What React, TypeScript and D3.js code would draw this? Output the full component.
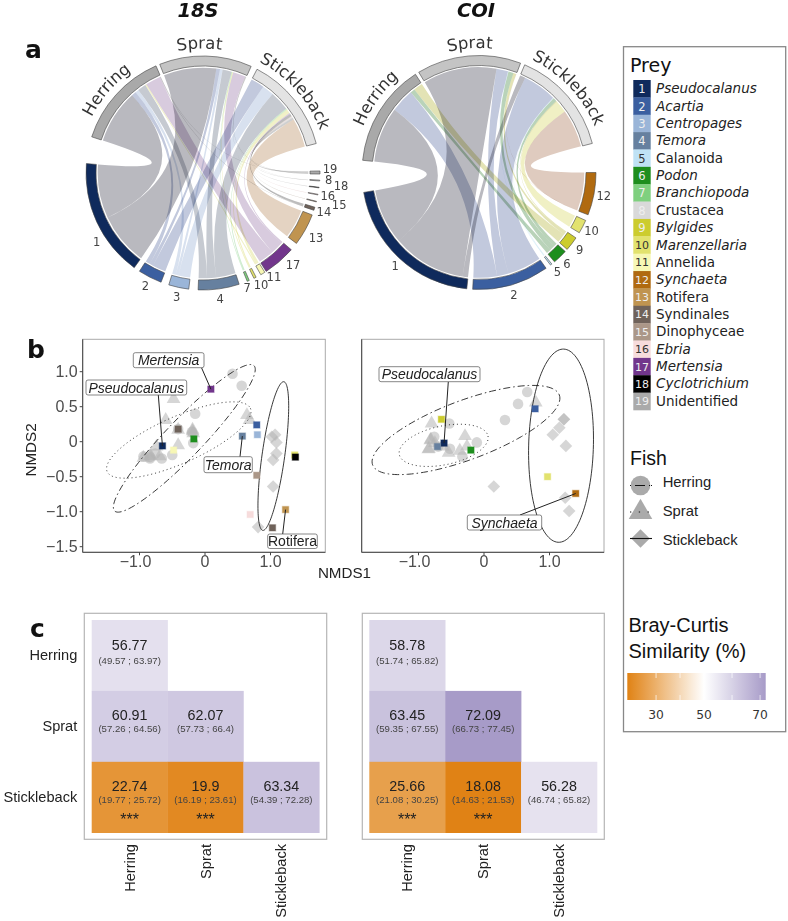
import * as d3 from "d3";

const DEJAVU = "'DejaVu Sans'";
const ARIAL = "'Liberation Sans'";
const toRad = (deg: number) => (deg * Math.PI) / 180;

// prey legend
const PREY_NAMES = [
  "Pseudocalanus", "Acartia", "Centropages", "Temora", "Calanoida", "Podon", "Branchiopoda", "Crustacea",
  "Bylgides", "Marenzellaria", "Annelida", "Synchaeta", "Rotifera", "Syndinales", "Dinophyceae", "Ebria",
  "Mertensia", "Cyclotrichium", "Unidentified",
];
const PREY_ITALIC = [1, 2, 3, 4, 6, 7, 9, 10, 12, 16, 17, 18];
const PREY_COLORS = [
  "#0f2a5c", "#3b5fa0", "#9ab5d8", "#66809f", "#bfe2f5", "#1e8e1e", "#7fd07f", "#d9d9d9", "#cccc2e", "#e2e26e",
  "#f7f7b5", "#b06a10", "#c09450", "#6f625a", "#ab9788", "#f7dcdc", "#72368c", "#000000", "#aaaaaa",
];
const RIBBON_COLORS = [
  "#b9b9bf", "#c2c9dd", "#d8e1ef", "#c6cad1", "#dff0f8", "#b9d3b9", "#cfeccf", "#e2e2e2", "#e3e3b5", "#f0f0c4",
  "#f1f1c8", "#dfcbbf", "#e4d3c2", "#bdbdbd", "#dcd6d0", "#f0e4e4", "#d8cbde", "#dddddd", "#cfcfcf",
];
const DARK_NUMBERS = [5, 10, 11, 16];
const FISH = ["Herring", "Sprat", "Stickleback"];
const FISH_COLORS = ["#a9a9a9", "#c4c4c4", "#e3e3e3"];

// chord data: degrees of ring per fish/prey link, prey ids clockwise around the ring
const PREY_18S = [19, 8, 18, 16, 15, 14, 13, 17, 11, 10, 7, 4, 3, 2, 1];
const HERRING_18S = [0.2, 0, 0, 0, 0, 0.2, 0, 8.5, 0.7, 0, 0, 4.6, 2, 2.5, 29.6];
const SPRAT_18S = [0.3, 0.1, 0, 0, 0, 0.2, 0, 7, 0, 0.5, 0.4, 5, 1.5, 2, 29];
const STICKLEBACK_18S = [1, 0.3, 0.3, 0.3, 0.3, 1.2, 16, 0.8, 1.6, 0.7, 0.7, 10.8, 6.5, 7.4, 0];
const LINK_ORDER_18S = [1, 2, 3, 4, 7, 10, 11, 17, 14, 15, 16, 18, 8, 19, 13];
const GAPS_18S = [2, 3.2, 13.6, 3, 3.1, 3.2, 3.2, 2.7, 2.4, 4, 0.8, 2.6, 2.5, 4.2, 4.6, 4, 3.1, 13.4];

const PREY_COI = [12, 10, 9, 6, 5, 2, 1];
const HERRING_COI = [0, 0, 5, 2.5, 0, 13, 30.6];
const SPRAT_COI = [0.2, 0, 1.5, 2.8, 0.3, 6.4, 40.6];
const STICKLEBACK_COI = [21, 6.8, 0.6, 2, 0.5, 18.7, 3];
const LINK_ORDER_COI = [1, 2, 5, 6, 9, 10, 12];
const GAPS_COI = [1.9, 2.2, 14.4, 3, 3, 1.4, 1.7, 2.7, 2.9, 15.8];

// ordination points, NMDS1/NMDS2
const HERRING_PTS_18S = [[0.42, 0.97], [0.56, 0.8], [-0.15, 0.4], [-0.18, -0.02], [-0.5, -0.19], [-0.66, -0.24], [-0.84, -0.24], [-0.84, -0.22], [-0.94, -0.21], [-0.76, -0.17], [-0.2, 0.14], [-0.41, 0.18]];
const SPRAT_PTS_18S = [[-0.48, 0.61], [-0.6, 0.31], [0.64, 0.38], [0.68, 0.31], [-0.19, 0.17], [-0.19, 0.15], [-0.41, 0.17], [-0.41, -0.05], [-0.18, 0.12], [-0.74, -0.07], [-0.84, -0.21], [-0.83, -0.2], [-0.69, -0.21], [-0.94, -0.23]];
const STICKLEBACK_PTS_18S = [[1.07, 0.1], [1.02, 0.07], [1.09, -0.01], [1.09, -0.17], [1.04, -0.26], [1.04, -0.64], [0.81, -1.22]];
const PREY_PTS_18S = [[17, 0.09, 0.75], [1, -0.65, -0.06], [14, -0.41, 0.18], [6, -0.17, 0.04], [11, -0.48, -0.12], [4, 0.57, 0.08], [2, 0.79, 0.24], [3, 0.8, 0.1], [10, 1.37, -0.19], [18, 1.38, -0.22], [15, 0.79, -0.48], [16, 0.69, -1.04], [14, 1.03, -1.23], [13, 1.23, -0.97]];

const HERRING_PTS_COI = [[0.66, 0.71], [0.52, 0.54], [0.32, 0.31], [-0.11, -0.01], [-0.53, 0.26], [-0.76, 0.07], [-0.33, -0.21], [-0.52, -0.1], [-0.7, -0.07]];
const SPRAT_PTS_COI = [[0.79, 0.56], [-0.8, 0.26], [-0.29, 0.08], [-0.82, 0.02], [-0.81, 0.03], [-0.26, -0.07], [-0.37, -0.13], [-0.85, -0.11], [-0.84, -0.1], [-0.54, -0.16], [-0.75, -0.02], [-0.63, -0.07]];
const STICKLEBACK_PTS_COI = [[1.22, 0.32], [1.22, 0.32], [1.15, 0.2], [1.05, 0.1], [1.25, -0.06], [0.15, -0.64], [1.24, -0.8], [1.3, -0.99]];
const PREY_PTS_COI = [[2, 0.78, 0.47], [9, -0.65, 0.32], [1, -0.61, -0.02], [4, -0.71, -0.07], [6, -0.2, -0.12], [10, 0.97, -0.5], [12, 1.4, -0.74]];

// ellipses: centre, long half axis, short half axis
const ELLIPSES_18S = [
  [-0.316, 0.048, 1.064, 1.038, 0.204, -0.186],
  [-0.4, 0.024, 1.094, 0.452, 0.1425, -0.305],
  [1.043, -0.205, 0.153, 1.062, 0.178, 0.024],
];
const ELLIPSES_COI = [
  [-0.275, 0.167, 1.425, 0.5, 0.158, -0.395],
  [-0.616, -0.052, 0.677, 0.133, 0.061, -0.271],
  [1.176, -0.057, 0.04, 1.38, 0.494, -0.014],
];
const ELLIPSE_DASH = ["7 3 1.5 3", "1 3", ""];
const LEGEND_DASH = ["1 4 10 4 1", "1.3 7.5", ""];

const CALLOUTS_18S = [
  { text: "Mertensia", italic: true, x: 133.3, y: 352.7, w: 70.7, h: 15, fromX: 201.5, fromY: 367.7, prey: 17 },
  { text: "Pseudocalanus", italic: true, x: 86, y: 380, w: 100.7, h: 15, fromX: 158.3, fromY: 395, prey: 1 },
  { text: "Temora", italic: true, x: 204, y: 456.7, w: 48.3, h: 16, fromX: 240, fromY: 456.7, prey: 4 },
  { text: "Rotifera", italic: false, x: 267.7, y: 534, w: 49.6, h: 14.5, fromX: 282.7, fromY: 534, prey: 13 },
];
const CALLOUTS_COI = [
  { text: "Pseudocalanus", italic: true, x: 379, y: 366.7, w: 101, h: 15, fromX: 448.3, fromY: 381.7, prey: 1 },
  { text: "Synchaeta", italic: true, x: 467.3, y: 515, w: 74.4, h: 15, fromX: 520, fromY: 515, prey: 12 },
];

// similarity tables, lower triangle
const SIM_18S = [[56.77], [60.91, 62.07], [22.74, 19.9, 63.34]];
const CI_18S = [["(49.57 ; 63.97)"], ["(57.26 ; 64.56)", "(57.73 ; 66.4)"], ["(19.77 ; 25.72)", "(16.19 ; 23.61)", "(54.39 ; 72.28)"]];
const SIM_COI = [[58.78], [63.45, 72.09], [25.66, 18.08, 56.28]];
const CI_COI = [["(51.74 ; 65.82)"], ["(59.35 ; 67.55)", "(66.73 ; 77.45)"], ["(21.08 ; 30.25)", "(14.63 ; 21.53)", "(46.74 ; 65.82)"]];
const STARS = [[2, 0], [2, 1]];

const simColor = d3.scaleLinear<string>().domain([18, 50, 72]).range(["#e08214", "#ffffff", "#a79bc8"]);

type ChordProps = {
  cx: number;
  cy: number;
  prey: number[];
  flows: number[][];
  linkOrder: number[];
  gaps: number[];
  start: number;
  labelNudge: { [id: number]: [number, number] };
  fishAngles: number[];
  id: string;
};

const Chord = ({ cx, cy, prey, flows, linkOrder, gaps, start, labelNudge, fishAngles, id }: ChordProps) => {
  const R = 117;
  const trackIn = 107;
  const ribbonR = 105.3;
  const arc = d3.arc<any>();
  const ribbon = d3.ribbon<any, any>().radius(ribbonR);

  const sectors: { key: string; start: number; end: number; fill: string; preyId?: number }[] = [];
  const fishPos: { [k: string]: number } = {};
  const preyPos: { [k: string]: number } = {};
  let a = start;
  let g = 0;
  flows.forEach((row, f) => {
    const total = d3.sum(row);
    sectors.push({ key: FISH[f], start: a, end: a + total, fill: FISH_COLORS[f] });
    fishPos[f] = a;
    a += total + gaps[g++];
  });
  prey.forEach((p, i) => {
    const total = d3.sum(flows, (row) => row[i]);
    sectors.push({ key: "p" + p, start: a, end: a + total, fill: PREY_COLORS[p - 1], preyId: p });
    preyPos[p] = a;
    a += total + gaps[g++];
  });

  // fish side runs by link order, prey side runs stickleback to herring
  const links: { p: number; f: number; s0: number; s1: number; t0: number; t1: number }[] = [];
  flows.forEach((row, f) => {
    linkOrder.forEach((p) => {
      const v = row[prey.indexOf(p)];
      if (v > 0) {
        links.push({ p, f, s0: fishPos[f], s1: fishPos[f] + v, t0: 0, t1: 0 });
        fishPos[f] += v;
      }
    });
  });
  [2, 1, 0].forEach((f) => {
    links
      .filter((l) => l.f === f)
      .forEach((l) => {
        const v = l.s1 - l.s0;
        l.t0 = preyPos[l.p];
        l.t1 = l.t0 + v;
        preyPos[l.p] += v;
      });
  });

  return (
    <g transform={`translate(${cx},${cy})`}>
      {links
        .slice()
        .sort((x, y) => x.p - y.p)
        .map((l, i) => (
          <path
            key={i}
            d={ribbon({
              source: { startAngle: toRad(l.s0), endAngle: toRad(l.s1) },
              target: { startAngle: toRad(l.t0), endAngle: toRad(l.t1) },
            }) as unknown as string}
            fill={RIBBON_COLORS[l.p - 1]}
            style={{ mixBlendMode: "multiply" }}
          />
        ))}
      {sectors.map((s) => (
        <path
          key={s.key}
          d={arc({ innerRadius: trackIn, outerRadius: R, startAngle: toRad(s.start), endAngle: toRad(s.end) }) as string}
          fill={s.fill}
          stroke="#444"
          strokeWidth={0.6}
        />
      ))}
      {sectors
        .filter((s) => s.preyId)
        .map((s) => {
          const mid = toRad((s.start + s.end) / 2);
          const n = labelNudge[s.preyId as number] || [0, 0];
          return (
            <text
              key={s.key}
              x={127 * Math.sin(mid) + n[0]}
              y={-127 * Math.cos(mid) + n[1]}
              fontFamily={DEJAVU}
              fontSize={11.5}
              fill="#444"
              textAnchor="middle"
              dominantBaseline="central"
            >
              {s.preyId}
            </text>
          );
        })}
      {FISH.map((name, f) => {
        const m = fishAngles[f];
        const p0 = toRad(m - 70);
        const p1 = toRad(m + 70);
        const r = 124.5;
        const d = `M${r * Math.sin(p0)},${-r * Math.cos(p0)}A${r},${r} 0 0 1 ${r * Math.sin(p1)},${-r * Math.cos(p1)}`;
        return (
          <g key={name}>
            <path id={`${id}-${f}`} d={d} fill="none" />
            <text fontFamily={DEJAVU} fontSize={16.5} fill="#333">
              <textPath href={`#${id}-${f}`} startOffset="50%" textAnchor="middle">
                {name}
              </textPath>
            </text>
          </g>
        );
      })}
    </g>
  );
};

type OrdinationProps = {
  left: number;
  right: number;
  zeroX: number;
  herring: number[][];
  sprat: number[][];
  stickleback: number[][];
  preyPts: number[][];
  ellipses: number[][];
  callouts: typeof CALLOUTS_18S;
  showY: boolean;
};

const Ordination = ({ left, right, zeroX, herring, sprat, stickleback, preyPts, ellipses, callouts, showY }: OrdinationProps) => {
  const top = 339.3;
  const bottom = 552.3;
  const x = d3.scaleLinear().domain([0, 1]).range([zeroX, zeroX + 65.5]);
  const y = d3.scaleLinear().domain([0, 1]).range([441.7, 371.7]);
  const circle = d3.symbol().type(d3.symbolCircle).size(88)() as string;
  const triangle = d3.symbol().type(d3.symbolTriangle).size(82)() as string;
  const diamond = d3.symbol().type(d3.symbolSquare).size(80)() as string;
  const angles = d3.range(0, 2 * Math.PI, 0.05);

  return (
    <g>
      <rect x={left} y={top} width={right - left} height={bottom - top} fill="#fff" stroke="#aaa" strokeWidth={1} />
      <line x1={left} x2={left} y1={top} y2={bottom} stroke="#444" strokeWidth={1} />
      <line x1={left} x2={right} y1={bottom} y2={bottom} stroke="#444" strokeWidth={1} />
      {herring.map((d, i) => (
        <path key={i} d={circle} transform={`translate(${x(d[0])},${y(d[1])})`} fill="#b5b5b5" fillOpacity={0.55} />
      ))}
      {sprat.map((d, i) => (
        <path key={i} d={triangle} transform={`translate(${x(d[0])},${y(d[1])})`} fill="#b5b5b5" fillOpacity={0.55} />
      ))}
      {stickleback.map((d, i) => (
        <path key={i} d={diamond} transform={`translate(${x(d[0])},${y(d[1])}) rotate(45)`} fill="#b5b5b5" fillOpacity={0.55} />
      ))}
      {ellipses.map((e, i) => {
        const path = d3
          .line<number>()
          .x((t) => x(e[0] + e[2] * Math.cos(t) + e[4] * Math.sin(t)))
          .y((t) => y(e[1] + e[3] * Math.cos(t) + e[5] * Math.sin(t)))
          .curve(d3.curveLinearClosed)(angles) as string;
        return <path key={i} d={path} fill="none" stroke="#222" strokeWidth={0.9} strokeDasharray={ELLIPSE_DASH[i]} />;
      })}
      {preyPts.map((d, i) => (
        <rect
          key={i}
          x={x(d[1]) - 3.2}
          y={y(d[2]) - 3.2}
          width={6.4}
          height={6.4}
          fill={PREY_COLORS[d[0] - 1]}
          stroke={PREY_COLORS[d[0] - 1]}
          strokeOpacity={0.35}
          strokeWidth={1.2}
        />
      ))}
      {callouts.map((c) => {
        const target = preyPts.find((d) => d[0] === c.prey) as number[];
        return (
          <g key={c.text}>
            <line x1={c.fromX} y1={c.fromY} x2={x(target[1])} y2={y(target[2])} stroke="#222" strokeWidth={1} />
            <rect x={c.x} y={c.y} width={c.w} height={c.h} rx={2} fill="#fff" stroke="#555" strokeWidth={0.7} />
            <text
              x={c.x + c.w / 2}
              y={c.y + c.h / 2 + 5}
              textAnchor="middle"
              fontFamily={ARIAL}
              fontSize={14}
              fontStyle={c.italic ? "italic" : "normal"}
              fill="#222"
            >
              {c.text}
            </text>
          </g>
        );
      })}
      {[-1, 0, 1].map((t) => (
        <g key={t}>
          <line x1={x(t)} x2={x(t)} y1={bottom} y2={bottom + 3} stroke="#444" />
          <text
            x={x(t) - (t < 0 ? 4 : 0)}
            y={567}
            textAnchor="middle"
            fontFamily={ARIAL}
            fontSize={16}
            fill="#4d4d4d"
          >
            {t === 0 ? "0" : d3.format(".1f")(t).replace("-", "\u2212")}
          </text>
        </g>
      ))}
      {showY &&
        [-1.5, -1, -0.5, 0, 0.5, 1].map((t) => (
          <g key={t}>
            <line x1={left - 3} x2={left} y1={y(t)} y2={y(t)} stroke="#444" />
            <text x={left - 5} y={y(t) + 5.5} textAnchor="end" fontFamily={ARIAL} fontSize={16} fill="#4d4d4d">
              {t === 0 ? "0" : d3.format(".1f")(t).replace("-", "\u2212")}
            </text>
          </g>
        ))}
    </g>
  );
};

type HeatProps = {
  boxLeft: number;
  boxRight: number;
  cellLeft: number;
  cellRight: number;
  sim: number[][];
  ci: string[][];
  showY: boolean;
};

const Heat = ({ boxLeft, boxRight, cellLeft, cellRight, sim, ci, showY }: HeatProps) => {
  const x = d3.scaleBand<number>().domain([0, 1, 2]).range([cellLeft, cellRight]);
  const y = d3.scaleBand<number>().domain([0, 1, 2]).range([620, 832.7]);
  const bw = x.bandwidth();
  return (
    <g>
      <rect x={boxLeft} y={613.3} width={boxRight - boxLeft} height={226} fill="#fff" stroke="#b5b5b5" strokeWidth={1.2} />
      {sim.map((row, r) =>
        row.map((v, c) => {
          const mx = (x(c) as number) + bw / 2;
          const y0 = y(r) as number;
          const starred = STARS.some((s) => s[0] === r && s[1] === c);
          return (
            <g key={`${r}-${c}`}>
              <rect x={x(c)} y={y0} width={bw + 0.3} height={y.bandwidth() + 0.3} fill={simColor(v)} />
              <text x={mx} y={r === 0 ? 650 : y0 + 29.5} textAnchor="middle" fontFamily={ARIAL} fontSize={14.3} fill="#222">
                {v}
              </text>
              <text x={mx} y={r === 0 ? 664 : y0 + 41} textAnchor="middle" fontFamily={ARIAL} fontSize={9.6} fill="#444">
                {ci[r][c]}
              </text>
              {starred && (
                <text x={mx} y={825} textAnchor="middle" fontFamily={ARIAL} fontSize={16} fill="#222">
                  ***
                </text>
              )}
            </g>
          );
        })
      )}
      {FISH.map((name, i) => (
        <text
          key={name}
          transform={`translate(${(x(i) as number) + bw / 2 + 5},844) rotate(-90)`}
          textAnchor="end"
          fontFamily={ARIAL}
          fontSize={14.6}
          fill="#222"
        >
          {name}
        </text>
      ))}
      {showY &&
        FISH.map((name, i) => (
          <text key={name} x={77.3} y={(y(i) as number) + y.bandwidth() / 2 + 5} textAnchor="end" fontFamily={ARIAL} fontSize={14.6} fill="#222">
            {name}
          </text>
        ))}
    </g>
  );
};

const Legend = () => {
  const rows = d3.scaleBand<number>().domain(d3.range(1, 20)).range([80, 410]);
  const h = rows.bandwidth();
  const bar = d3.scaleLinear().domain([18, 50, 72]).range([627.3, 704, 765.7]);
  const stops = d3.range(18, 72.01, 2);
  const symbolX = 640.5;
  return (
    <g>
      <rect x={623.5} y={46.7} width={162.2} height={685} fill="#fff" stroke="#888" strokeWidth={1.3} />
      <text x={630} y={72} fontFamily={DEJAVU} fontSize={19} fill="#111">
        Prey
      </text>
      {PREY_NAMES.map((name, i) => {
        const id = i + 1;
        const yy = rows(id) as number;
        return (
          <g key={name}>
            <rect x={633.3} y={yy} width={17.4} height={h + 0.3} fill={PREY_COLORS[i]} />
            <text
              x={642}
              y={yy + h / 2 + 0.5}
              textAnchor="middle"
              dominantBaseline="central"
              fontFamily={DEJAVU}
              fontSize={i + 1 >= 10 ? 11 : 11.5}
              fill={DARK_NUMBERS.includes(id) ? "#333" : "#eee"}
            >
              {id}
            </text>
            <text
              x={656}
              y={yy + h / 2 + 4.5}
              fontFamily={DEJAVU}
              fontSize={13.5}
              fontStyle={PREY_ITALIC.includes(id) ? "italic" : "normal"}
              fill="#222"
            >
              {name}
            </text>
          </g>
        );
      })}
      <text x={630} y={465} fontFamily={ARIAL} fontSize={19.5} fill="#111">
        Fish
      </text>
      <path d={d3.symbol().type(d3.symbolCircle).size(300)() as string} transform={`translate(${symbolX},485.5)`} fill="#aaa" />
      <path d={d3.symbol().type(d3.symbolTriangle).size(240)() as string} transform={`translate(${symbolX},512.3)`} fill="#aaa" />
      <path d={d3.symbol().type(d3.symbolSquare).size(170)() as string} transform={`translate(${symbolX},538.5) rotate(45)`} fill="#aaa" />
      {[485.5, 512, 538.5].map((yy, i) => (
        <line key={i} x1={630} x2={652} y1={yy} y2={yy} stroke="#111" strokeWidth={1.1} strokeDasharray={LEGEND_DASH[i]} />
      ))}
      {FISH.map((name, i) => (
        <text key={name} x={662.7} y={486.7 + i * 29} fontFamily={ARIAL} fontSize={14.8} fill="#222">
          {name}
        </text>
      ))}
      <text x={628.5} y={632} fontFamily={ARIAL} fontSize={20} fill="#111">
        Bray-Curtis
      </text>
      <text x={628.5} y={658} fontFamily={ARIAL} fontSize={20} fill="#111">
        Similarity (%)
      </text>
      <defs>
        <linearGradient id="simGrad" x1="0" x2="1" y1="0" y2="0">
          {stops.map((s) => (
            <stop key={s} offset={(bar(s) - 627.3) / (765.7 - 627.3)} stopColor={simColor(s)} />
          ))}
        </linearGradient>
      </defs>
      <rect x={627.3} y={673} width={138.4} height={27} fill="url(#simGrad)" />
      {[30, 40, 50, 60, 70].map((t) => (
        <g key={t} stroke="#fff" strokeOpacity={0.7}>
          <line x1={bar(t)} x2={bar(t)} y1={673} y2={678} />
          <line x1={bar(t)} x2={bar(t)} y1={695} y2={700} />
        </g>
      ))}
      {[30, 50, 70].map((t) => (
        <text key={t} x={bar(t)} y={719} textAnchor="middle" fontFamily={DEJAVU} fontSize={12.3} fill="#333">
          {t}
        </text>
      ))}
    </g>
  );
};

export default function App() {
  return (
    <svg width={788} height={921} style={{ position: "absolute", left: 0, top: 0 }}>
      <rect width={788} height={921} fill="#fff" />
      <text x={198} y={17} textAnchor="middle" fontFamily={DEJAVU} fontSize={19.5} fontWeight="bold" fontStyle="italic" fill="#111">
        18S
      </text>
      <text x={476} y={17} textAnchor="middle" fontFamily={DEJAVU} fontSize={19.5} fontWeight="bold" fontStyle="italic" fill="#111">
        COI
      </text>
      <text x={25} y={58} fontFamily={DEJAVU} fontSize={25} fontWeight="bold" fill="#111">a</text>
      <text x={27} y={358} fontFamily={DEJAVU} fontSize={25} fontWeight="bold" fill="#111">b</text>
      <text x={30} y={637} fontFamily={DEJAVU} fontSize={25} fontWeight="bold" fill="#111">c</text>

      <Chord
        id="chord18"
        cx={203}
        cy={173}
        prey={PREY_18S}
        flows={[HERRING_18S, SPRAT_18S, STICKLEBACK_18S]}
        linkOrder={LINK_ORDER_18S}
        gaps={GAPS_18S}
        start={288}
        fishAngles={[310.7, 358.4, 48.4]}
        labelNudge={{ 19: [0, -3.5], 8: [-1, -1], 17: [7, -4], 11: [6, -5], 10: [1.5, -2], 7: [-5, -2], 1: [9, 16], 13: [2, 3], 18: [12, -3], 15: [13, 0.5] }}
      />
      <Chord
        id="chordCoi"
        cx={479}
        cy={172.5}
        prey={PREY_COI}
        flows={[HERRING_COI, SPRAT_COI, STICKLEBACK_COI]}
        linkOrder={LINK_ORDER_COI}
        gaps={GAPS_COI}
        start={276}
        fishAngles={[305.7, 355.9, 46.7]}
        labelNudge={{ 1: [3, 1] }}
      />

      <Ordination
        left={82.7}
        right={325.3}
        zeroX={205}
        herring={HERRING_PTS_18S}
        sprat={SPRAT_PTS_18S}
        stickleback={STICKLEBACK_PTS_18S}
        preyPts={PREY_PTS_18S}
        ellipses={ELLIPSES_18S}
        callouts={CALLOUTS_18S}
        showY
      />
      <Ordination
        left={361.7}
        right={604}
        zeroX={484}
        herring={HERRING_PTS_COI}
        sprat={SPRAT_PTS_COI}
        stickleback={STICKLEBACK_PTS_COI}
        preyPts={PREY_PTS_COI}
        ellipses={ELLIPSES_COI}
        callouts={CALLOUTS_COI}
        showY={false}
      />
      <text transform="translate(36,450) rotate(-90)" textAnchor="middle" fontFamily={ARIAL} fontSize={15.2} fill="#222">
        NMDS2
      </text>
      <text x={344.5} y={578} textAnchor="middle" fontFamily={ARIAL} fontSize={15.2} fill="#222">
        NMDS1
      </text>

      <Heat boxLeft={84.3} boxRight={326.7} cellLeft={91.7} cellRight={319.3} sim={SIM_18S} ci={CI_18S} showY />
      <Heat boxLeft={362.3} boxRight={604.3} cellLeft={369.3} cellRight={597} sim={SIM_COI} ci={CI_COI} showY={false} />

      <Legend />
    </svg>
  );
}
